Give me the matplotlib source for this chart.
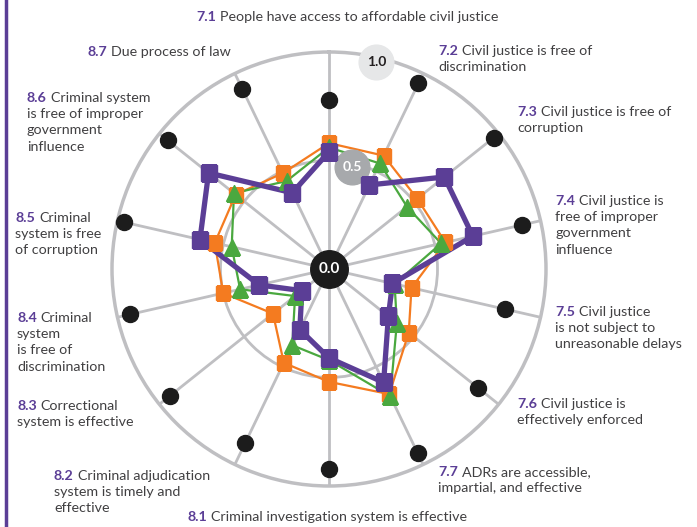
import numpy as np
import matplotlib.pyplot as plt

plt.rcParams['font.family'] = ['Lato', 'DejaVu Sans']

codes = ["7.1", "7.2", "7.3", "7.4", "7.5", "7.6", "7.7",
         "8.1", "8.2", "8.3", "8.4", "8.5", "8.6", "8.7"]
labels = [
    "People have access to affordable civil justice",
    "Civil justice is free of\ndiscrimination",
    "Civil justice is free of\ncorruption",
    "Civil justice is\nfree of improper\ngovernment\ninfluence",
    "Civil justice\nis not subject to\nunreasonable delays",
    "Civil justice is\neffectively enforced",
    "ADRs are accessible,\nimpartial, and effective",
    "Criminal investigation system is effective",
    "Criminal adjudication\nsystem is timely and\neffective",
    "Correctional\nsystem is effective",
    "Criminal\nsystem\nis free of\ndiscrimination",
    "Criminal\nsystem is free\nof corruption",
    "Criminal system\nis free of improper\ngovernment\ninfluence",
    "Due process of law",
]
best_vals = [0.78, 0.95, 0.97, 0.91, 0.83, 0.88, 0.94, 0.92, 0.89, 0.94, 0.94, 0.97, 0.95, 0.92]
orange_vals = [0.58, 0.58, 0.52, 0.55, 0.39, 0.47, 0.64, 0.52, 0.48, 0.33, 0.50, 0.54, 0.55, 0.49]
green_vals = [0.56, 0.54, 0.46, 0.53, 0.31, 0.40, 0.65, 0.42, 0.39, 0.20, 0.42, 0.46, 0.56, 0.45]
purple_vals = [0.54, 0.43, 0.68, 0.68, 0.30, 0.35, 0.58, 0.41, 0.31, 0.16, 0.33, 0.61, 0.71, 0.39]

# label anchor (left x, first-line y) in pixels from top-left
label_pos = [(196, 17), (438, 51), (517, 112), (555, 201), (555, 312), (517, 404), (438, 472),
             (187, 517), (54, 476), (17, 406), (17, 318), (15, 218), (27, 98), (87, 52)]

PURPLE = "#5b3e96"
ORANGE = "#f47b20"
GREEN = "#4aa83f"
GRID = "#bfbfc2"
TEXT = "#414042"

W, H = 697, 527
fig = plt.figure(figsize=(W / 100, H / 100), dpi=100)
cx, cy, R = 329, 269, 217
ax = fig.add_axes([(cx - R) / W, (H - cy - R) / H, 2 * R / W, 2 * R / H], projection='polar')

n = len(codes)
theta = np.arange(n) * 2 * np.pi / n
ax.set_theta_zero_location('N')
ax.set_theta_direction(-1)
ax.set_ylim(0, 1)
ax.set_xticks(theta)
ax.set_xticklabels([])
ax.set_yticks([0.5])
ax.set_yticklabels([])
ax.grid(True, color=GRID, linewidth=2)
ax.spines['polar'].set_color(GRID)
ax.spines['polar'].set_linewidth(2.5)
ax.patch.set_alpha(0)

tc = np.append(theta, theta[0])


def closed(v):
    return np.append(v, v[0])


ax.plot(theta, best_vals, 'o', color="#1c1c1c", markersize=11.5, zorder=3, clip_on=False)

ax.plot(tc, closed(orange_vals), '-', color=ORANGE, linewidth=1.6, zorder=4)
ax.plot(tc, closed(green_vals), '-', color=GREEN, linewidth=1.6, zorder=5)
ax.plot(tc, closed(purple_vals), '-', color=PURPLE, linewidth=3.8, zorder=6)

# scale badges
half = np.pi / n
ax.plot([half], [0.48], 'o', color="#a7a9ac", markersize=25, zorder=7)
ax.text(half, 0.48, "0.5", color="white", fontsize=10, fontweight='bold',
        ha='center', va='center', zorder=8)
ax.plot([half], [0.98], 'o', color="#e6e7e8", markersize=25, zorder=7, clip_on=False)
ax.text(half, 0.98, "1.0", color="#231f20", fontsize=10, fontweight='bold',
        ha='center', va='center', zorder=8)
ax.plot([0], [0], 'o', color="#1c1c1c", markersize=27, zorder=7)
ax.text(0, 0, "0.0", color="white", fontsize=11, fontweight='bold',
        ha='center', va='center', zorder=8)

ax.plot(theta, orange_vals, 's', color=ORANGE, markersize=10, zorder=9)
ax.plot(theta, green_vals, '^', color=GREEN, markersize=11, zorder=10)
ax.plot(theta, purple_vals, 's', color=PURPLE, markersize=11, zorder=11)

# left border
fig.add_artist(plt.Line2D([5.5 / W, 5.5 / W], [0, 1], color=PURPLE, linewidth=2.5))

# labels
fs = 10.3
lh = 16.2
fig.canvas.draw()
renderer = fig.canvas.get_renderer()
for code, lab, (x, y) in zip(codes, labels, label_pos):
    lines = lab.split("\n")
    num = fig.text(x / W, 1 - y / H, code, color=PURPLE, fontsize=fs, fontweight='bold',
                   ha='left', va='center')
    bb = num.get_window_extent(renderer)
    fig.text((bb.x1 + 4) / W, 1 - y / H, lines[0], color=TEXT, fontsize=fs,
             ha='left', va='center')
    for k, ln in enumerate(lines[1:], start=1):
        fig.text(x / W, 1 - (y + k * lh) / H, ln, color=TEXT, fontsize=fs,
                 ha='left', va='center')

fig.savefig("out.png", dpi=100)
